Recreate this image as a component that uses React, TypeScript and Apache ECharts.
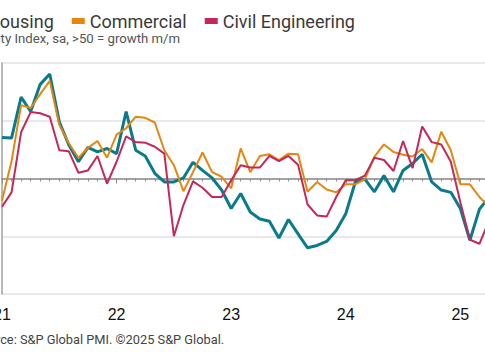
import React, { useEffect, useRef } from "react";
import * as echarts from "echarts";

const months: string[] = [];
for (let y = 2021; y <= 2025; y++) {
  for (let m = 1; m <= 12; m++) {
    if (y === 2025 && m > 4) break;
    months.push(`${y}-${String(m).padStart(2, "0")}`);
  }
}

const housing = [
  57.1, 57.0, 64.1, 61.6, 66.3, 68.1, 59.8, 55.8, 52.9, 55.4, 54.6, 55.2,
  54.3, 61.6, 54.9, 53.9, 50.9, 49.4, 49.4, 50.1, 52.8, 51.4, 50.1, 48.0,
  44.8, 47.4, 44.2, 43.0, 42.6, 39.7, 42.9, 40.4, 38.0, 38.4, 39.1, 41.0,
  43.9, 49.4, 49.9, 47.7, 50.5, 47.7, 51.4, 52.6, 54.2, 49.4, 48.0, 47.6,
  44.8, 39.3, 44.7, 46.8,
];
const commercial = [
  46.2, 53.0, 62.7, 62.2, 64.6, 66.9, 59.3, 56.1, 53.6, 55.3, 56.5, 53.6,
  57.6, 58.7, 60.7, 60.5, 59.7, 54.9, 52.3, 47.8, 51.1, 54.5, 51.1, 50.3,
  48.3, 55.2, 51.1, 53.9, 54.2, 53.2, 54.3, 54.2, 47.7, 49.4, 48.1, 47.6,
  49.0, 49.0, 49.9, 53.8, 55.9, 54.6, 54.1, 53.8, 55.1, 52.8, 58.1, 54.9,
  49.0, 49.0, 46.8, 45.1,
];
const civil = [
  45.1, 47.6, 58.0, 61.5, 61.3, 60.7, 54.9, 54.7, 51.0, 51.4, 53.9, 49.1,
  52.9, 57.3, 56.3, 56.2, 55.5, 54.3, 40.0, 45.4, 49.5, 48.4, 46.8, 46.8,
  49.7, 52.3, 51.9, 51.9, 53.9, 53.0, 53.9, 52.4, 45.5, 43.6, 43.4, 46.8,
  49.7, 49.7, 50.5, 53.6, 53.2, 51.3, 56.5, 51.8, 59.0, 56.3, 55.9, 52.9,
  45.9, 39.4, 38.7, 42.7,
];

const seriesNames = ["Housing", "Commercial", "Civil Engineering"];
const colors = ["#0b7a8b", "#e4870f", "#c4285a"];
const subtitle = "Activity Index, sa, >50 = growth m/m";
const footer = "Source: S&P Global PMI. ©2025 S&P Global.";

const OFF = 60;
const W = 560;
const FONT = "Roboto, 'Noto Sans', sans-serif";

const isJan = (i: number) => i % 12 === 0;

export default function App() {
  const ref = useRef<HTMLDivElement>(null);
  useEffect(() => {
    if (!ref.current) return;
    const chart = echarts.init(ref.current, null, { renderer: "svg" });
    const baseX = {
      type: "category" as const,
      data: months,
      boundaryGap: false,
      position: "bottom" as const,
      splitLine: { show: false },
    };
    chart.setOption({
      animation: false,
      backgroundColor: "#ffffff",
      color: colors,
      legend: {
        left: OFF - 31,
        top: 12,
        padding: 0,
        icon: "rect",
        itemWidth: 13,
        itemHeight: 6,
        itemGap: 18,
        textStyle: { fontFamily: FONT, fontSize: 18, color: "#3a3a3a" },
        data: seriesNames,
      },
      graphic: [
        {
          type: "text",
          left: OFF - 32,
          top: 32,
          style: { text: subtitle, font: `13.2px ${FONT}`, fill: "#555555" },
        },
        {
          type: "text",
          left: OFF - 26,
          top: 333,
          style: { text: footer, font: `12.8px ${FONT}`, fill: "#444444" },
        },
      ],
      grid: { left: OFF + 2, right: W - (OFF + 489), top: 63, bottom: 66 },
      xAxis: [
        {
          ...baseX,
          axisLine: { show: false },
          axisTick: { show: false },
          axisLabel: {
            interval: (i: number) => isJan(i),
            formatter: (v: string) => v.slice(2, 4),
            fontFamily: "'Liberation Sans', Arial, sans-serif",
            fontSize: 16,
            color: "#111111",
            margin: 12,
          },
        },
        {
          ...baseX,
          offset: -115.5,
          axisLine: { show: true, lineStyle: { color: "#8c8c8c", width: 1.5 } },
          axisTick: { show: true, interval: 0, length: 3, lineStyle: { color: "#8c8c8c", width: 1 } },
          axisLabel: { show: false },
        },
        {
          ...baseX,
          offset: -115.5,
          axisLine: { show: false },
          axisTick: {
            show: true,
            interval: (i: number) => isJan(i),
            length: 5,
            lineStyle: { color: "#8c8c8c", width: 1 },
          },
          axisLabel: { show: false },
        },
      ],
      yAxis: {
        type: "value",
        min: 30,
        max: 70,
        interval: 10,
        axisLine: { show: true, lineStyle: { color: "#a0a0a0", width: 1.5 } },
        axisTick: { show: false },
        axisLabel: { show: false },
        splitLine: { lineStyle: { color: "#e2e2e2", width: 1.5 } },
      },
      series: [
        {
          name: seriesNames[0],
          type: "line",
          data: housing,
          showSymbol: false,
          lineStyle: { width: 3, color: colors[0] },
          z: 2,
        },
        {
          name: seriesNames[1],
          type: "line",
          data: commercial,
          showSymbol: false,
          lineStyle: { width: 2, color: colors[1] },
          z: 3,
        },
        {
          name: seriesNames[2],
          type: "line",
          data: civil,
          showSymbol: false,
          lineStyle: { width: 2, color: colors[2] },
          z: 4,
        },
      ],
    });
    return () => chart.dispose();
  }, []);
  return (
    <div style={{ position: "fixed", left: 0, top: 0, width: 485, height: 360, overflow: "hidden", background: "#fff" }}>
      <div ref={ref} style={{ position: "absolute", left: -OFF, top: 0, width: W, height: 360 }} />
    </div>
  );
}
